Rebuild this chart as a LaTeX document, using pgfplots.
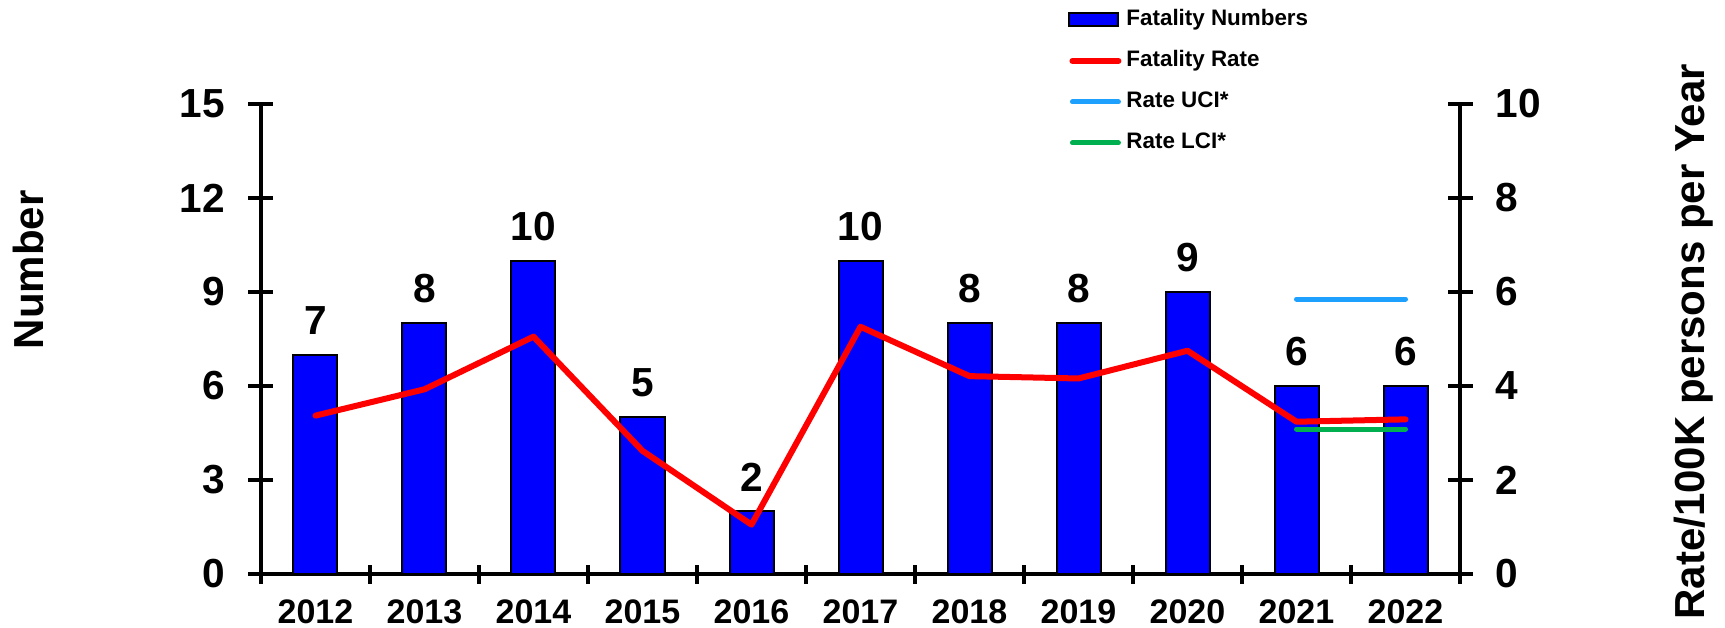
\documentclass[border=0pt]{standalone}
\usepackage{fontspec}
\setmainfont{Liberation Sans}
\usepackage{pgfplots}
\usepackage{pgfplotstable}
\pgfplotsset{compat=1.18}

\definecolor{barblue}{RGB}{0,0,255}
\definecolor{ratered}{RGB}{255,0,0}
\definecolor{ucicol}{RGB}{30,160,255}
\definecolor{lcicol}{RGB}{0,176,80}

\newcommand{\tickfont}{\bfseries\fontsize{20.3}{24}\selectfont}
\newcommand{\xfont}{\bfseries\fontsize{17}{20}\selectfont}
\newcommand{\labfont}{\bfseries\fontsize{21}{25}\selectfont}
\newcommand{\legfont}{\bfseries\fontsize{11.2}{13}\selectfont}

% idx 0 = 2012
\pgfplotstableread{
idx num rate
0   7   3.37
1   8   3.93
2   10  5.05
3   5   2.62
4   2   1.05
5   10  5.26
6   8   4.21
7   8   4.16
8   9   4.75
9   6   3.24
10  6   3.29
}\fatal

\pgfplotsset{
  base/.style={
    at={(0pt,0pt)}, anchor=south west,
    scale only axis, width=599.5pt, height=235pt,
    xmin=-0.5, xmax=10.5,
    tick align=center,
    tick style={black, line width=2pt},
    major tick length=12.5pt,
    minor tick length=9.5pt,
    /pgf/number format/assume math mode=true,
    ticklabel style={font=\tickfont},
    clip=false,
  },
  linelegend/.style={legend image code/.code={\draw[##1] (1.5pt,0pt) -- (24.5pt,0pt);}},
}

\begin{document}
\begin{tikzpicture}
\useasboundingbox (-130.5pt,-26.5pt) rectangle (732pt,287pt);

\begin{axis}[base,
  axis x line=bottom, axis y line=left,
  axis line style={line width=2pt, -},
  ymin=0, ymax=15, ytick={0,3,...,15},
  yticklabel style={inner sep=0pt, xshift=-11.5pt},
  xtick={0,...,10},
  xticklabels={2012,2013,2014,2015,2016,2017,2018,2019,2020,2021,2022},
  xtick style={/pgfplots/major tick length=0pt},
  minor xtick={-0.5,0.5,...,10.5},
  xticklabel style={font=\xfont, inner sep=0pt, yshift=-6.5pt},
  ylabel={Number},
  ylabel style={font=\labfont, at={(axis description cs:-0.1818,0.647)}, anchor=base},
]
\addplot[ybar, bar width=22pt, fill=barblue, draw=black, line width=1pt,
  nodes near coords,
  nodes near coords style={font=\tickfont, anchor=south, inner sep=0pt, yshift=9.5pt}]
  table[x=idx, y=num] {\fatal};
\end{axis}

\begin{axis}[base,
  axis y line=right, axis x line=none, xtick=\empty,
  axis line style={line width=2pt, -},
  ymin=0, ymax=10, ytick={0,2,...,10},
  yticklabel style={inner sep=0pt, xshift=11.5pt},
  ylabel={Rate/100K persons per Year},
  ylabel style={font=\labfont, at={(axis description cs:1.2043,0.494)}, anchor=base},
  legend cell align=left,
  legend style={at={(axis description cs:0.6731,1.203)}, anchor=north west,
    draw=none, fill=none, inner sep=0pt, row sep=9.5pt, column sep=2.5pt,
    font=\legfont, nodes={inner sep=0pt, text height=8.2pt, text depth=2.8pt}},
]
\addlegendimage{legend image code/.code={\draw[fill=barblue, draw=black, line width=1pt] (0pt,-3.25pt) rectangle (24.5pt,3.25pt);}}
\addlegendentry{Fatality Numbers}
\addplot[linelegend, ratered, line width=3pt, line join=round, line cap=round]
  table[x=idx, y=rate] {\fatal};
\addlegendentry{Fatality Rate}
\addplot[linelegend, ucicol, line width=2.5pt, line cap=round]
  coordinates {(9,5.85) (10,5.85)};
\addlegendentry{Rate UCI*}
\addplot[linelegend, lcicol, line width=2.5pt, line cap=round]
  coordinates {(9,3.085) (10,3.085)};
\addlegendentry{Rate LCI*}
\end{axis}
\end{tikzpicture}
\end{document}
